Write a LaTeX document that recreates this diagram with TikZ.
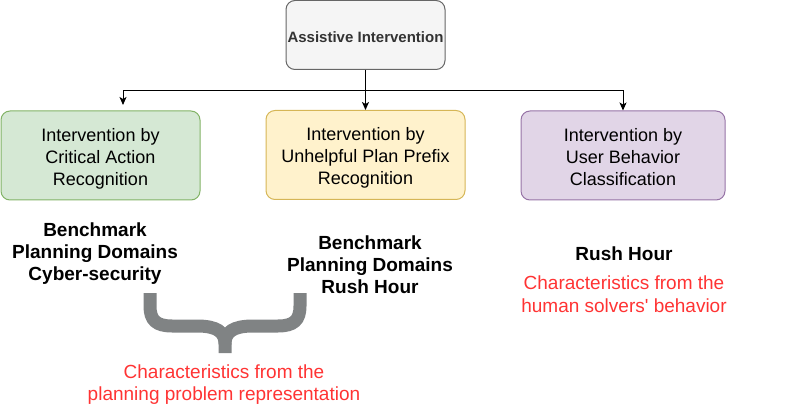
\documentclass[tikz,border=0pt]{standalone}
\usepackage{fontspec}
\setmainfont{Liberation Sans}
\usetikzlibrary{arrows.meta}
\definecolor{grayfill}{HTML}{F5F5F5}
\definecolor{graydraw}{HTML}{666666}
\definecolor{graytext}{HTML}{333333}
\definecolor{greenfill}{HTML}{D5E8D4}
\definecolor{greendraw}{HTML}{82B366}
\definecolor{yellowfill}{HTML}{FFF2CC}
\definecolor{yellowdraw}{HTML}{D6B656}
\definecolor{purplefill}{HTML}{E1D5E7}
\definecolor{purpledraw}{HTML}{9673A6}
\definecolor{notered}{HTML}{FF3333}
\definecolor{bracegray}{HTML}{808384}
\newcommand{\lowerby}{\rule{0pt}{20pt}}
\newcommand{\lastdepth}{\rule[-4pt]{0pt}{0pt}}
\tikzset{
  box/.style={draw, rounded corners=9pt, line width=1pt, align=center,
    minimum height=89pt, inner sep=0pt, font=\fontsize{18}{22}\selectfont},
  bench/.style={align=center, inner sep=0pt, font=\bfseries\fontsize{19}{22}\selectfont},
  note/.style={align=center, inner sep=0pt, text=notered, font=\fontsize{19}{22.5}\selectfont},
  arr/.style={-{Stealth[length=8pt,width=7pt,inset=2pt]}, line width=1pt}
}
\begin{document}
\begin{tikzpicture}[x=1pt,y=-1pt]
\useasboundingbox (0,0) rectangle (786,419);
% the root
\node[box, fill=grayfill, draw=graydraw, text=graytext, minimum width=159pt, minimum height=69pt,
  font=\bfseries\fontsize{15}{18}\selectfont] (assist) at (365.5,35) {\rule{0pt}{16pt}Assistive Intervention};
% the three kinds of intervention
\node[box, fill=greenfill, draw=greendraw, minimum width=199pt] (critical) at (100.5,155.5) {\lowerby Intervention by\\Critical Action\\Recognition\lastdepth};
\node[box, fill=yellowfill, draw=yellowdraw, minimum width=199pt] (prefix) at (365.5,155) {\lowerby Intervention by\\Unhelpful Plan Prefix\\Recognition\lastdepth};
\node[box, fill=purplefill, draw=purpledraw, minimum width=204pt] (behavior) at (623,155.5) {\lowerby Intervention by\\User Behavior\\Classification\lastdepth};
% connectors
\coordinate (fork) at (365.5,91);
\coordinate (critin) at (123,105);
\draw[arr] (assist) -- (prefix);
\draw[arr] (fork) -| (critin);
\draw[arr] (fork) -| (behavior.north);
% domains
\node[bench] (benchcyber) at (95,254) {Benchmark\\Planning Domains\\Cyber-security};
\node[bench] (benchrush) at (370,265) {Benchmark\\Planning Domains\\Rush Hour};
\node[bench] (rushhour) at (624,254) {Rush Hour};
\node[note] (humannote) at (624,294) {Characteristics from the\\human solvers\textquotesingle{} behavior};
% the brace
\draw[bracegray, line width=13pt] (150,293) -- (150,306) .. controls (150,320) and (156,326) .. (172,326)
  -- (197,326) .. controls (217,326) and (225,332) .. (225,344) -- (225,353);
\draw[bracegray, line width=13pt] (300,293) -- (300,306) .. controls (300,320) and (294,326) .. (278,326)
  -- (253,326) .. controls (233,326) and (225,332) .. (225,344);
\node[note] (plannote) at (224,384.5) {Characteristics from the\\planning problem representation};
\end{tikzpicture}
\end{document}
